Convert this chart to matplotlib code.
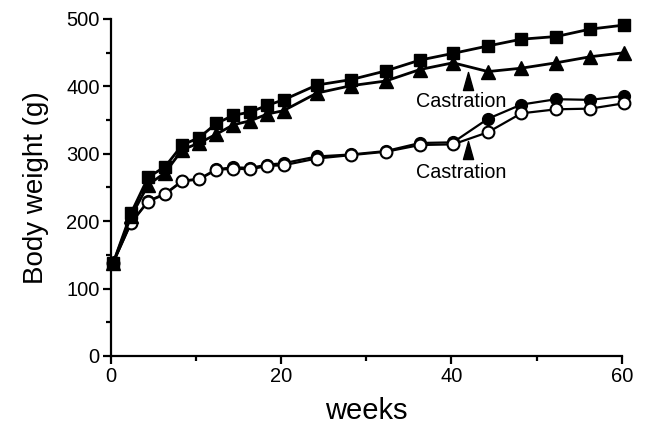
import matplotlib
matplotlib.use("Agg")
import matplotlib.pyplot as plt
from matplotlib.path import Path
from matplotlib.ticker import MultipleLocator

plt.rcParams["font.family"] = ["Liberation Sans", "DejaVu Sans"]

# measurement times (weeks)
weeks = [0.3, 2.4, 4.4, 6.4, 8.4, 10.4, 12.4, 14.4, 16.4, 18.4, 20.3,
         24.2, 28.2, 32.3, 36.3, 40.2, 44.3, 48.2, 52.3, 56.3, 60.3]

# body weight (g)
intact_square = [138, 212, 265, 281, 313, 324, 345, 357, 362, 372, 380,
                 402, 410, 423, 439, 449, 460, 470, 474, 485, 491]
castrated_triangle = [138, 207, 254, 272, 306, 316, 329, 343, 349, 359, 364,
                      390, 401, 408, 425, 435, 422, 427, 435, 444, 450]
castrated_filled_circle = [138, 198, 230, 241, 260, 263, 277, 280, 279, 284, 286,
                           296, 299, 304, 316, 317, 352, 373, 381, 380, 386]
control_open_circle = [138, 197, 229, 240, 259, 262, 276, 278, 277, 282, 283,
                       293, 298, 303, 313, 314, 332, 360, 366, 367, 375]

# castration marks: week, weight at arrow centre, label weight
castration_week = [42.0, 42.0]
castration_tip = [408, 305]
castration_label = [377, 272]

fig = plt.figure(figsize=(6.47, 4.25), dpi=100)
ax = fig.add_axes([0.171, 0.1624, 0.79, 0.7929])

ax.plot(weeks, castrated_filled_circle, color="black", lw=1.6, marker="o",
        ms=8.5, mfc="black", mec="black", clip_on=False, zorder=3)
ax.plot(weeks, control_open_circle, color="black", lw=1.6, marker="o",
        ms=8.5, mfc="white", mec="black", mew=1.5, clip_on=False, zorder=4)
ax.plot(weeks, castrated_triangle, color="black", lw=2.0, marker="^",
        ms=9.5, mfc="black", mec="black", clip_on=False, zorder=5)
ax.plot(weeks, intact_square, color="black", lw=2.0, marker="s",
        ms=8.3, mfc="black", mec="black", clip_on=False, zorder=6)

tri = Path([(-0.28, -0.5), (0.28, -0.5), (0.0, 0.5), (-0.28, -0.5)],
           [Path.MOVETO, Path.LINETO, Path.LINETO, Path.CLOSEPOLY])
for wk, tip, lab in zip(castration_week, castration_tip, castration_label):
    ax.plot([wk], [tip], linestyle="none", marker=tri, ms=13,
            color="black", zorder=7)
    ax.text(wk - 0.8, lab, "Castration", fontsize=14.2, ha="center",
            va="center", zorder=7)

ax.set_xlim(0, 60)
ax.set_ylim(0, 500)
ax.xaxis.set_major_locator(MultipleLocator(20))
ax.xaxis.set_minor_locator(MultipleLocator(10))
ax.yaxis.set_major_locator(MultipleLocator(100))
ax.yaxis.set_minor_locator(MultipleLocator(50))

for side in ["top", "right"]:
    ax.spines[side].set_visible(False)
for side in ["left", "bottom"]:
    ax.spines[side].set_linewidth(1.6)

ax.tick_params(which="major", direction="out", length=6, width=1.6,
               labelsize=14.5, pad=2)
ax.tick_params(which="minor", direction="out", length=3.5, width=1.6)

ax.set_xlabel("weeks", fontsize=21, labelpad=8)
ax.set_ylabel("Body weight (g)", fontsize=20, labelpad=12)

fig.savefig("out.png", dpi=100)
